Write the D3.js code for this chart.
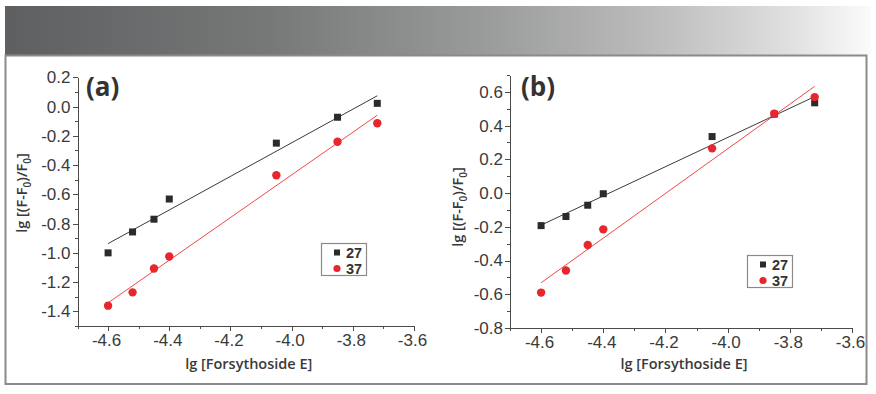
<!DOCTYPE html>
<html>
<head>
<meta charset="utf-8">
<script src="https://cdn.jsdelivr.net/npm/d3@7"></script>
<style>
  html, body { margin: 0; padding: 0; background: #fff; }
  svg { display: block; font-family: "Open Sans", "Noto Sans", sans-serif; }
  .axis path, .axis line { stroke: #4a4a4a; stroke-width: 1; shape-rendering: crispEdges; }
  .axis text { fill: #3a3a3a; font-size: 17px; }
</style>
</head>
<body>
<svg id="chart" width="876" height="394"></svg>
<script>
// ---------------- data ----------------
const concentration = [-4.6, -4.52, -4.45, -4.4, -4.05, -3.85, -3.72];   // lg [Forsythoside E]
const seriesNames = ["27", "37"];
const panelA_27 = [-1.0, -0.857, -0.77, -0.632, -0.25, -0.073, 0.022];
const panelA_37 = [-1.361, -1.27, -1.107, -1.025, -0.47, -0.241, -0.114];
const panelB_27 = [-0.193, -0.139, -0.072, -0.004, 0.335, 0.468, 0.535];
const panelB_37 = [-0.59, -0.459, -0.308, -0.215, 0.265, 0.47, 0.569];
const xDomain = [-4.7, -3.6];
const xMajorTicks = [-4.6, -4.4, -4.2, -4.0, -3.8, -3.6];
const xMinorTicks = [-4.7, -4.5, -4.3, -4.1, -3.9, -3.7];
const aYDomain = [-1.5, 0.2];
const aYMajorTicks = [-1.4, -1.2, -1.0, -0.8, -0.6, -0.4, -0.2, 0.0, 0.2];
const aYMinorTicks = [-1.5, -1.3, -1.1, -0.9, -0.7, -0.5, -0.3, -0.1, 0.1];
const bYDomain = [-0.8, 0.7];
const bYMajorTicks = [-0.8, -0.6, -0.4, -0.2, 0.0, 0.2, 0.4, 0.6];
const bYMinorTicks = [-0.7, -0.5, -0.3, -0.1, 0.1, 0.3, 0.5, 0.7];
const panelLabels = ["(a)", "(b)"];
const xTitle = "lg [Forsythoside E]";

// ---------------- style ----------------
const colors = { "27": "#2b2b2b", "37": "#e8262d" };
const lineColors = { "27": "#3a3a3a", "37": "#f04848" };

const svg = d3.select("#chart");

// banner gradient
const defs = svg.append("defs");
const grad = defs.append("linearGradient").attr("id", "banner").attr("x1", "0").attr("x2", "1").attr("y1", "0").attr("y2", "0");
[[0, "#5e5f61"], [0.3, "#767777"], [0.55, "#999a9a"], [0.75, "#bcbcbc"], [0.9, "#dedede"], [1, "#fbfbfb"]]
  .forEach(([o, c]) => grad.append("stop").attr("offset", o).attr("stop-color", c));
svg.append("rect").attr("x", 5).attr("y", 6).attr("width", 866).attr("height", 49).attr("fill", "url(#banner)");

// frame
svg.append("rect").attr("x", 5.5).attr("y", 55.5).attr("width", 861).attr("height", 328.5)
  .attr("fill", "none").attr("stroke", "#8a8a8a").attr("stroke-width", 2);

function fit(xs, ys) {
  const mx = d3.mean(xs), my = d3.mean(ys);
  let sxy = 0, sxx = 0;
  xs.forEach((x, i) => { sxy += (x - mx) * (ys[i] - my); sxx += (x - mx) * (x - mx); });
  const slope = sxy / sxx;
  return x => my + slope * (x - mx);
}

const fmt = d => d.toFixed(1);

function drawPanel(o) {
  const g = svg.append("g");
  const x = d3.scaleLinear().domain(xDomain).range(o.xRange);
  const y = d3.scaleLinear().domain(o.yDomain).range(o.yRange);

  // axes
  const xAxisY = o.yRange[0];
  const xAxis = g.append("g").attr("class", "axis").attr("transform", `translate(0,${xAxisY})`);
  xAxis.call(d3.axisBottom(x).tickValues(xMajorTicks).tickSize(5).tickSizeOuter(0).tickPadding(3).tickFormat(fmt));
  xAxis.selectAll("text").attr("dx", d => d < 0 ? -2 : 0);
  g.append("g").attr("class", "axis").attr("transform", `translate(0,${xAxisY})`)
    .call(d3.axisBottom(x).tickValues(xMinorTicks).tickSize(3).tickSizeOuter(0).tickFormat(""))
    .select("path").remove();

  const yAxisX = o.xRange[0];
  g.append("g").attr("class", "axis").attr("transform", `translate(${yAxisX},0)`)
    .call(d3.axisLeft(y).tickValues(o.yMajor).tickSize(5).tickSizeOuter(0).tickPadding(2).tickFormat(fmt));
  g.append("g").attr("class", "axis").attr("transform", `translate(${yAxisX},0)`)
    .call(d3.axisLeft(y).tickValues(o.yMinor).tickSize(3).tickSizeOuter(0).tickFormat(""))
    .select("path").remove();

  // fit lines
  const xs = [concentration[0], concentration[concentration.length - 1]];
  o.series.forEach((vals, i) => {
    const f = fit(concentration, vals);
    const name = seriesNames[i];
    g.append("path")
      .attr("d", d3.line().x(d => x(d)).y(d => y(f(d)))(xs))
      .attr("fill", "none").attr("stroke", lineColors[name]).attr("stroke-width", 1);
  });

  // points: squares (27), circles (37)
  const s = 7;
  g.append("g").selectAll("rect").data(concentration.map((c, i) => [c, o.series[0][i]])).join("rect")
    .attr("x", d => x(d[0]) - s / 2).attr("y", d => y(d[1]) - s / 2)
    .attr("width", s).attr("height", s).attr("fill", colors["27"]);
  g.append("g").selectAll("circle").data(concentration.map((c, i) => [c, o.series[1][i]])).join("circle")
    .attr("cx", d => x(d[0])).attr("cy", d => y(d[1])).attr("r", 4.2).attr("fill", colors["37"]);

  // panel label
  g.append("text").attr("x", o.labelPos[0]).attr("y", o.labelPos[1])
    .attr("font-size", 26).attr("font-weight", 700).attr("fill", "#333").text(o.label);

  // axis titles
  g.append("text").attr("x", (o.xRange[0] + o.xRange[1]) / 2 + 3).attr("y", 369)
    .attr("text-anchor", "middle").attr("font-size", 14.5).attr("font-weight", 600).attr("fill", "#3a3a3a")
    .text(xTitle);
  const yt = g.append("text").attr("transform", `translate(${o.yTitlePos[0]},${o.yTitlePos[1]}) rotate(-90)`)
    .attr("text-anchor", "middle").attr("font-size", 14.5).attr("font-weight", 600).attr("fill", "#3a3a3a");
  yt.append("tspan").text("lg [(F-F");
  yt.append("tspan").attr("font-size", 10).attr("dy", 4).text("0");
  yt.append("tspan").attr("dy", -4).text(")/F");
  yt.append("tspan").attr("font-size", 10).attr("dy", 4).text("0");
  yt.append("tspan").attr("dy", -4).text("]");

  // legend
  const [lx, ly] = o.legendPos;
  const lg = g.append("g").attr("transform", `translate(${lx},${ly})`);
  lg.append("rect").attr("x", 0.5).attr("y", 0.5).attr("width", 45).attr("height", 32)
    .attr("fill", "#fff").attr("stroke", "#8a8a8a").attr("stroke-width", 1.2);
  lg.append("rect").attr("x", 16 - 3).attr("y", 9.5 - 3).attr("width", 6).attr("height", 6).attr("fill", colors["27"]);
  lg.append("circle").attr("cx", 16).attr("cy", 25.5).attr("r", 3.6).attr("fill", colors["37"]);
  seriesNames.forEach((n, i) => {
    lg.append("text").attr("x", 25).attr("y", 14.5 + i * 16.5)
      .style("font-family", '"Liberation Sans", Arial, sans-serif')
      .attr("font-size", 14.5).attr("font-weight", 700)
      .attr("fill", "#333").text(n);
  });
}

drawPanel({
  xRange: [77.5, 414], yRange: [326, 77.3], yDomain: aYDomain,
  yMajor: aYMajorTicks, yMinor: aYMinorTicks,
  series: [panelA_27, panelA_37], label: panelLabels[0], labelPos: [86, 96],
  yTitlePos: [27, 193], legendPos: [321, 243]
});
drawPanel({
  xRange: [510, 852], yRange: [328, 75], yDomain: bYDomain,
  yMajor: bYMajorTicks, yMinor: bYMinorTicks,
  series: [panelB_27, panelB_37], label: panelLabels[1], labelPos: [521, 96],
  yTitlePos: [463, 207], legendPos: [747, 255]
});
</script>
</body>
</html>
